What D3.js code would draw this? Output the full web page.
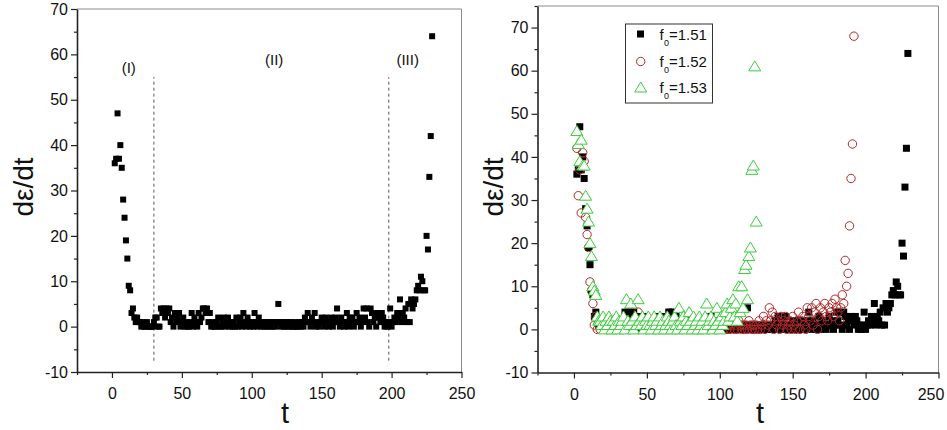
<!DOCTYPE html>
<html>
<head>
<meta charset="utf-8">
<script src="https://cdnjs.cloudflare.com/ajax/libs/d3/7.8.5/d3.min.js"></script>
<style>
  body { margin: 0; background: #fff; }
  svg { display: block; }
  text { font-family: "Liberation Sans", Arial, sans-serif; fill: #111; }
</style>
</head>
<body>
<svg id="chart" width="947" height="430"></svg>
<script>
(function() {
  //
  // data : de/dt, one value per time step
  //

  var tStart151 = 2;
  var dedt151 = [
    36, 37, 47, 37, 40, 35, 28, 24, 19, 15, 9, 8,
    3, 4, 2, 1, 2, 1, 1,
    0, 1, 0, 0, 1, 0, 0, 0, 0, 1,
    2, 2, 0, 0, 4, 3, 4, 2, 4, 3,
    4, 1, 2, 0, 3, 1, 2, 3, 0, 1,
    2, 0, 1, 0, 0, 1, 3, 0, 2, 1,
    0, 3, 1, 2, 4, 4, 3, 4, 1, 3,
    0, 1, 0, 0, 1, 2, 0, 0, 1, 2,
    0, 1, 2, 0, 1, 0, 1, 0, 2, 0,
    1, 2, 0, 3, 1, 0, 2, 1, 0, 1,
    0, 3, 1, 0, 2, 1, 0, 1, 0, 1,
    0, 1, 0, 1, 0, 1, 0, 1, 5, 1,
    0, 1, 0, 1, 0, 1, 0, 1, 0, 0,
    1, 0, 0, 1, 0, 1, 0, 2, 1, 3,
    1, 0, 2, 1, 3, 0, 1, 0, 1, 2,
    1, 0, 2, 1, 0, 1, 2, 0, 1, 2,
    4, 1, 0, 2, 1, 0, 1, 3, 0, 2,
    1, 2, 0, 1, 3, 1, 2, 0, 1, 4,
    2, 4, 1, 0, 4, 3, 1, 2, 0, 3,
    2, 1, 3, 2, 0, 1, 0, 1, 4, 0,
    1, 2, 1, 3, 2, 6, 1, 3, 2, 4,
    1, 5, 1, 6, 4, 5, 6, 8, 9, 8,
    11, 10, 8, 8, 20, 17, 33, 42, 64
  ];

  var tStart152 = 2;
  var dedt152 = [
    42, 31, 37, 27, 41, 39, 26, 22, 19, 11, 9, 6, 1,
    3, 0, 1, 0, 2, 1, 0, 1, 0, 2,
    0, 1, 0, 0, 1, 0, 2, 1, 0, 1,
    0, 2, 1, 0, 1, 0, 2, 1, 0, 4,
    1, 0, 2, 0, 1, 0, 1, 2, 0, 1,
    0, 1, 0, 2, 1, 0, 1, 0, 2, 1,
    0, 1, 0, 1, 2, 0, 1, 0, 1, 0,
    2, 1, 0, 1, 0, 2, 1, 0, 1, 0,
    1, 0, 2, 1, 0, 1, 0, 1, 0, 2,
    1, 0, 1, 0, 1, 0, 2, 1, 0, 1,
    0, 1, 0, 1, 2, 0, 1, 0, 2, 1,
    0, 1, 0, 1, 0, 2, 1, 0, 1, 0,
    1, 0, 2, 0, 1, 3, 0, 2, 1, 5,
    2, 4, 0, 3, 1, 2, 0, 3, 1, 2,
    3, 0, 1, 2, 0, 3, 1, 0, 2, 4,
    0, 2, 3, 1, 0, 5, 3, 2, 5, 1,
    4, 6, 0, 3, 5, 2, 4, 6, 3, 2,
    5, 4, 6, 3, 7, 5, 4, 2, 5,
    8, 6, 16, 10, 13, 24, 35, 43, 68
  ];

  var tStart153 = 2;
  var dedt153 = [
    46, 43, 39, 44, 38, 38, 31, 28, 25, 20, 17, 10, 9, 8, 3, 2,
    2, 1, 3, 0, 2, 1, 3, 2, 0, 2,
    1, 3, 0, 2, 1, 2, 3, 0, 7, 2,
    1, 6, 2, 0, 3, 1, 7, 2, 1, 3,
    0, 2, 1, 3, 1, 0, 2, 3, 1, 2,
    0, 3, 1, 2, 0, 1, 3, 2, 1, 0,
    2, 3, 1, 0, 5, 2, 1, 3, 0, 2,
    1, 4, 2, 0, 3, 1, 2, 0, 3, 1,
    2, 0, 3, 6, 1, 2, 3, 0, 2, 1,
    5, 2, 0, 3, 1, 2, 4, 6, 2, 3,
    5, 7, 3, 6, 2, 10, 4, 10, 5, 14, 15, 7, 17, 19, 37, 38, 61, 25
  ];

  var xDomain = [-25, 250];
  var xTicks = [0, 50, 100, 150, 200, 250];
  var yDomainLeft = [-10, 70];
  var yDomainRight = [-10, 75];
  var yTicks = [-10, 0, 10, 20, 30, 40, 50, 60, 70];

  var stageNames = ['(I)', '(II)', '(III)'];
  var stageT = [12, 116, 211.5];
  var stageV = [55.8, 57.7, 57.7];
  var stageBounds = [30, 198];
  var stageLineRange = [-7.5, 55];

  var legendValues = ['1.51', '1.52', '1.53'];

  var RED = '#b0282a';
  var GREEN = '#3ccc3c';

  var svg = d3.select('#chart');

  function toPoints(start, vals) {
    return vals.map(function(v, i) {
      return { t: start + i, v: v };
    });
  }

  function fmt(d) {
    return String(d);
  }

  function makePanel(box, yDomain) {
    var g = svg.append('g');
    var x = d3.scaleLinear().domain(xDomain).range([box.left, box.right]);
    var y = d3.scaleLinear().domain(yDomain).range([box.bottom, box.top]);

    var minorX = d3.range(-25, 251, 25).filter(function(d) { return d % 50 != 0; });
    var minorY = d3.range(-5, yDomain[1] + 1, 10);

    // frame top and right, grey
    g.append('path')
      .attr('d', 'M' + box.left + ',' + box.top + 'H' + box.right + 'V' + box.bottom)
      .attr('fill', 'none')
      .attr('stroke', '#8a8a8a')
      .attr('stroke-width', 1);

    var ax = g.append('g')
      .attr('transform', 'translate(0,' + box.bottom + ')')
      .call(d3.axisBottom(x).tickValues(xTicks).tickFormat(fmt).tickSize(6).tickSizeOuter(0).tickPadding(10));
    g.append('g')
      .attr('transform', 'translate(0,' + box.bottom + ')')
      .call(d3.axisBottom(x).tickValues(minorX).tickFormat('').tickSize(3).tickSizeOuter(0))
      .select('.domain').remove();

    g.append('g')
      .attr('transform', 'translate(' + box.left + ',0)')
      .call(d3.axisLeft(y).tickValues(yTicks).tickFormat(fmt).tickSize(6).tickSizeOuter(0).tickPadding(3));
    g.append('g')
      .attr('transform', 'translate(' + box.left + ',0)')
      .call(d3.axisLeft(y).tickValues(minorY).tickFormat('').tickSize(3).tickSizeOuter(0))
      .select('.domain').remove();

    g.selectAll('.tick line').attr('stroke', '#222').attr('stroke-width', 1.2);
    g.selectAll('.domain').attr('stroke', '#222').attr('stroke-width', 1.6);
    g.selectAll('.tick text').style('font-size', '16px').attr('fill', '#111');

    // last x label sits a bit left so it stays inside the window
    if (box.nudgeLast) {
      ax.selectAll('.tick text').filter(function(d) { return d == 250; }).attr('dx', -box.nudgeLast);
    }

    // axis titles
    g.append('text')
      .attr('transform', 'translate(' + box.yTitleX + ',187) rotate(-90)')
      .attr('text-anchor', 'middle')
      .style('font-size', '28px')
      .text('d\u03B5/dt');

    g.append('text')
      .attr('x', box.xTitleX)
      .attr('y', 423)
      .attr('text-anchor', 'middle')
      .style('font-size', '29px')
      .text('t');

    return { g: g, x: x, y: y };
  }

  function drawSquares(p, pts, size) {
    p.g.append('g').selectAll('rect')
      .data(pts)
      .enter().append('rect')
      .attr('x', function(d) { return p.x(d.t) - size / 2; })
      .attr('y', function(d) { return p.y(d.v) - size / 2; })
      .attr('width', size)
      .attr('height', size)
      .attr('fill', '#000');
  }

  function drawCircles(p, pts) {
    p.g.append('g').selectAll('circle')
      .data(pts)
      .enter().append('circle')
      .attr('cx', function(d) { return p.x(d.t); })
      .attr('cy', function(d) { return p.y(d.v); })
      .attr('r', 4.2)
      .attr('fill', 'none')
      .attr('stroke', RED)
      .attr('stroke-width', 1);
  }

  var TRI = 'M0,-5.5L6,4.5L-6,4.5Z';

  function drawTriangles(p, pts) {
    p.g.append('g').selectAll('path')
      .data(pts)
      .enter().append('path')
      .attr('d', TRI)
      .attr('transform', function(d) {
        return 'translate(' + p.x(d.t) + ',' + p.y(d.v) + ')';
      })
      .attr('fill', '#fff')
      .attr('stroke', GREEN)
      .attr('stroke-width', 1);
  }

  var pts151 = toPoints(tStart151, dedt151);
  var pts152 = toPoints(tStart152, dedt152);
  var pts153 = toPoints(tStart153, dedt153);

  //
  // left panel
  //
  var left = makePanel({ left: 77, right: 461.5, top: 9, bottom: 372, yTitleX: 33, xTitleX: 285 }, yDomainLeft);

  left.g.append('g').selectAll('line')
    .data(stageBounds)
    .enter().append('line')
    .attr('x1', function(d) { return left.x(d); })
    .attr('x2', function(d) { return left.x(d); })
    .attr('y1', left.y(stageLineRange[0]))
    .attr('y2', left.y(stageLineRange[1]))
    .attr('stroke', '#555')
    .attr('stroke-width', 1)
    .attr('stroke-dasharray', '3,3');

  left.g.append('g').selectAll('text')
    .data(stageNames)
    .enter().append('text')
    .attr('x', function(d, i) { return left.x(stageT[i]); })
    .attr('y', function(d, i) { return left.y(stageV[i]); })
    .attr('text-anchor', 'middle')
    .style('font-size', '15px')
    .attr('fill', '#333')
    .text(function(d) { return d; });

  drawSquares(left, pts151, 6);

  //
  // right panel
  //
  var right = makePanel({ left: 537.5, right: 938.5, top: 6, bottom: 372.5, yTitleX: 503, xTitleX: 760, nudgeLast: 8 }, yDomainRight);

  drawSquares(right, pts151, 7);
  drawCircles(right, pts152);
  drawTriangles(right, pts153);

  // legend
  var lg = right.g.append('g');
  lg.append('rect')
    .attr('x', 625.5).attr('y', 24)
    .attr('width', 87).attr('height', 79)
    .attr('fill', '#fff')
    .attr('stroke', '#333')
    .attr('stroke-width', 1);

  var rowY = [34, 61.5, 87.5];
  lg.append('rect')
    .attr('x', 637).attr('y', rowY[0] - 3.5)
    .attr('width', 7).attr('height', 7)
    .attr('fill', '#000');
  lg.append('circle')
    .attr('cx', 640.7).attr('cy', rowY[1])
    .attr('r', 4.2)
    .attr('fill', 'none').attr('stroke', RED);
  lg.append('path')
    .attr('d', TRI)
    .attr('transform', 'translate(640.7,' + rowY[2] + ')')
    .attr('fill', '#fff').attr('stroke', GREEN);

  legendValues.forEach(function(v, i) {
    var t = lg.append('text')
      .attr('y', rowY[i] + 5.5)
      .style('font-size', '15px');
    t.append('tspan').attr('x', 659.5).text('f');
    t.append('tspan').attr('x', 664).attr('dy', 6).style('font-size', '9px').text('0');
    t.append('tspan').attr('x', 669).attr('dy', -6).text('=' + v);
  });
})();
</script>
</body>
</html>
